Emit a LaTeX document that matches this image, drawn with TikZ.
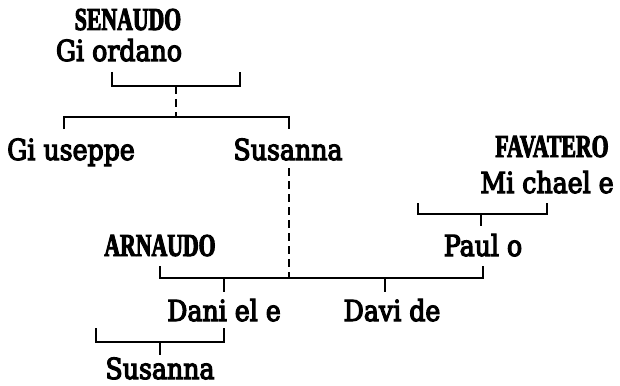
\documentclass[tikz,border=0pt]{standalone}
\usepackage{fontspec}
\newfontfamily\capfont{Liberation Serif Bold}[FakeStretch=0.68,FakeBold=3]
\newfontfamily\namefont{DejaVu Serif}[FakeStretch=0.87,FakeBold=4]
\begin{document}
\begin{tikzpicture}[x=1pt,y=-1pt,
  lbl/.style={anchor=base,inner sep=0pt,font=\namefont\fontsize{29}{30}\selectfont},
  clbl/.style={anchor=base,inner sep=0pt,font=\capfont\fontsize{32}{33}\selectfont},
  ln/.style={line width=2pt},
  dsh/.style={line width=1.4pt,dash pattern=on 8pt off 5pt}]
\useasboundingbox (0,0) rectangle (620,385);
% names
\node[clbl] (sen) at (128,30) {SENAUDO};
\node[lbl] (gio) at (119,61) {Gi ordano};
\node[lbl] (gis) at (71,160) {Gi useppe};
\node[lbl] (sus) at (288,160) {Susanna};
\node[clbl] (fav) at (552,157) {FAVATERO};
\node[lbl] (mic) at (547,193) {Mi chael e};
\node[lbl] (pau) at (483,256) {Paul o};
\node[clbl] (arn) at (160,256) {ARNAUDO};
\node[lbl] (dan) at (224,321) {Dani el e};
\node[lbl] (dav) at (392,321) {Davi de};
\node[lbl] (su2) at (160,379) {Susanna};
% coordinates
\coordinate (a1) at (112,72);
\coordinate (a2) at (240,72);
\coordinate (am) at (176,86);
\coordinate (bm) at (176,117);
\coordinate (b1) at (64,129);
\coordinate (b2) at (289,129);
\coordinate (c1) at (418,203);
\coordinate (c2) at (547,203);
\coordinate (cm) at (481,214);
\coordinate (ct) at (481,226);
\coordinate (sd) at (289,168);
\coordinate (sb) at (289,278);
\coordinate (d1) at (160,266);
\coordinate (d2) at (483,266);
\coordinate (dA) at (224,278);
\coordinate (dAt) at (224,292);
\coordinate (dB) at (385,278);
\coordinate (dBt) at (385,292);
\coordinate (e1) at (96,328);
\coordinate (e2) at (224,328);
\coordinate (em) at (160,342);
\coordinate (et) at (160,355);
% connectors
\draw[ln] (a1) -- ++(0,14) -| (a2);
\draw[dsh] (am) -- (bm);
\draw[ln] (b1) -- ++(0,-12) -| (b2);
\draw[ln] (c1) -- ++(0,11) -| (c2);
\draw[ln] (cm) -- (ct);
\draw[dsh] (sd) -- (sb);
\draw[ln] (d1) -- ++(0,12) -| (d2);
\draw[ln] (dA) -- (dAt);
\draw[ln] (dB) -- (dBt);
\draw[ln] (e1) -- ++(0,14) -| (e2);
\draw[ln] (em) -- (et);
\end{tikzpicture}
\end{document}
